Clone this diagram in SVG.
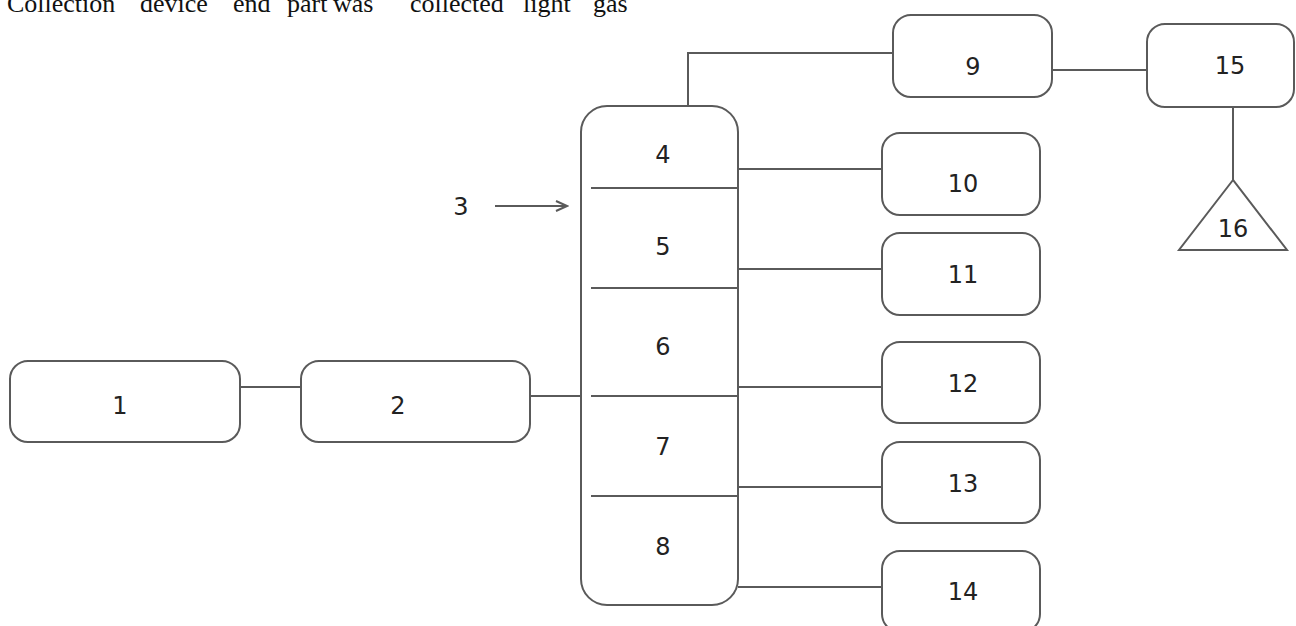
<svg xmlns="http://www.w3.org/2000/svg" width="1296" height="626" viewBox="0 0 1296 626">
<style>
.box{fill:#fff;stroke:#5a5a5a;stroke-width:2}
.ln{fill:none;stroke:#5a5a5a;stroke-width:2}
.lbl{font-family:"DejaVu Sans",Verdana,sans-serif;font-size:24px;fill:#222;text-anchor:middle}
.cap{font-family:"Liberation Serif","Times New Roman",serif;font-size:26px;fill:#111}
</style>
<defs>
<marker id="arr" markerWidth="14" markerHeight="12" refX="12" refY="6" orient="auto" markerUnits="userSpaceOnUse">
<path d="M1,1 L12,6 L1,11" fill="none" stroke="#5a5a5a" stroke-width="2"/>
</marker>
</defs>
<rect width="1296" height="626" fill="#fff"/>
<text class="cap" y="12"><tspan x="7">Collection</tspan><tspan x="140">device</tspan><tspan x="233">end</tspan><tspan x="287">part</tspan><tspan x="333">was</tspan><tspan x="410">collected</tspan><tspan x="523">light</tspan><tspan x="593">gas</tspan></text>
<g id="connectors">
<line class="ln" x1="240" y1="387" x2="301" y2="387"/>
<line class="ln" x1="530" y1="396" x2="581" y2="396"/>
<polyline class="ln" points="688,106 688,53 893,53"/>
<line class="ln" x1="1052" y1="70" x2="1147" y2="70"/>
<line class="ln" x1="1233" y1="107" x2="1233" y2="180"/>
<line class="ln" x1="738" y1="169" x2="882" y2="169"/>
<line class="ln" x1="738" y1="269" x2="882" y2="269"/>
<line class="ln" x1="738" y1="387" x2="882" y2="387"/>
<line class="ln" x1="738" y1="487" x2="882" y2="487"/>
<line class="ln" x1="738" y1="587" x2="882" y2="587"/>
<line class="ln" x1="495" y1="206" x2="567" y2="206" marker-end="url(#arr)"/>
</g>
<g id="n1"><rect class="box" x="10" y="361" width="230" height="81" rx="18"/><text class="lbl" x="120" y="414">1</text></g>
<g id="n2"><rect class="box" x="301" y="361" width="229" height="81" rx="18"/><text class="lbl" x="398" y="414">2</text></g>
<g id="n3"><text class="lbl" x="461" y="215">3</text></g>
<g id="column">
<rect class="box" x="581" y="106" width="157" height="499" rx="26"/>
<line class="ln" x1="591" y1="188" x2="738" y2="188"/>
<line class="ln" x1="591" y1="288" x2="738" y2="288"/>
<line class="ln" x1="591" y1="396" x2="738" y2="396"/>
<line class="ln" x1="591" y1="496" x2="738" y2="496"/>
</g>
<g id="n4"><text class="lbl" x="663" y="163">4</text></g>
<g id="n5"><text class="lbl" x="663" y="255">5</text></g>
<g id="n6"><text class="lbl" x="663" y="355">6</text></g>
<g id="n7"><text class="lbl" x="663" y="455">7</text></g>
<g id="n8"><text class="lbl" x="663" y="555">8</text></g>
<g id="n9"><rect class="box" x="893" y="15" width="159" height="82" rx="18"/><text class="lbl" x="973" y="75">9</text></g>
<g id="n10"><rect class="box" x="882" y="133" width="158" height="82" rx="18"/><text class="lbl" x="963" y="192">10</text></g>
<g id="n11"><rect class="box" x="882" y="233" width="158" height="82" rx="18"/><text class="lbl" x="963" y="283">11</text></g>
<g id="n12"><rect class="box" x="882" y="342" width="158" height="81" rx="18"/><text class="lbl" x="963" y="392">12</text></g>
<g id="n13"><rect class="box" x="882" y="442" width="158" height="81" rx="18"/><text class="lbl" x="963" y="492">13</text></g>
<g id="n14"><rect class="box" x="882" y="551" width="158" height="81" rx="18"/><text class="lbl" x="963" y="600">14</text></g>
<g id="n15"><rect class="box" x="1147" y="24" width="147" height="83" rx="18"/><text class="lbl" x="1230" y="74">15</text></g>
<g id="n16"><polygon class="box" points="1233,180 1179,250 1287,250"/><text class="lbl" x="1233" y="237">16</text></g>
</svg>
